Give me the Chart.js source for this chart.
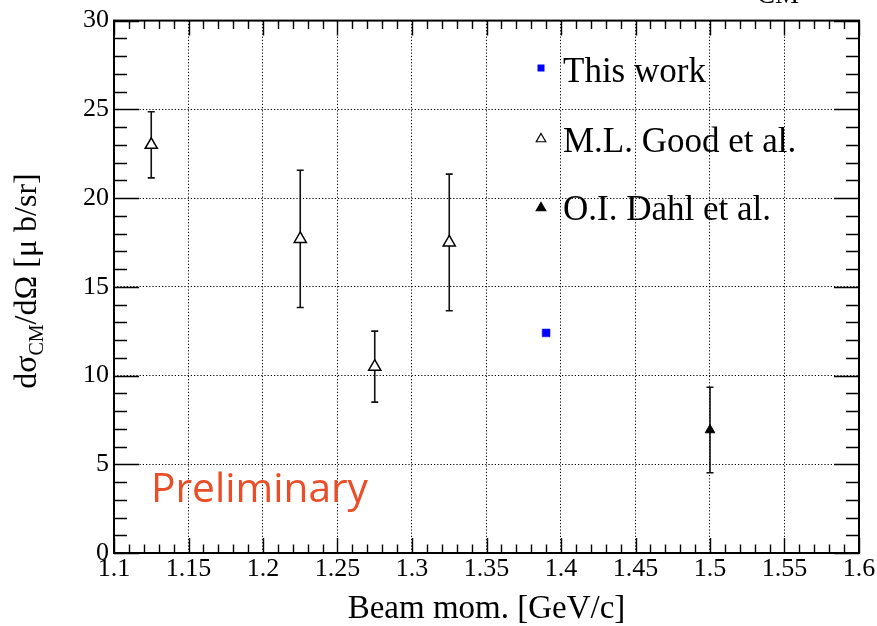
<!DOCTYPE html>
<html>
<head>
<meta charset="utf-8">
<script src="https://cdn.jsdelivr.net/npm/chart.js@4/dist/chart.umd.min.js"></script>
<style>
  html, body { margin: 0; padding: 0; background: #fff; }
  canvas { display: block; }
</style>
</head>
<body>
<canvas id="c" width="877" height="626"></canvas>
<script>
// ---- data ----
const xTickLabels = ['1.1','1.15','1.2','1.25','1.3','1.35','1.4','1.45','1.5','1.55','1.6'];
const yTickLabels = ['0','5','10','15','20','25','30'];

const legendLabels = ['This work', 'M.L. Good et al.', 'O.I. Dahl et al.'];

const thisWorkX = [1.39];
const thisWorkY = [12.4];

const goodX   = [1.125, 1.225, 1.275, 1.325];
const goodY   = [23.0, 17.7, 10.5, 17.5];
const goodErr = [1.86, 3.87, 2.0, 3.85];

const dahlX   = [1.5];
const dahlY   = [6.93];
const dahlErr = [2.41];

const xTitle = 'Beam mom. [GeV/c]';
const yTitleParts = ['d\u03C3', 'CM', '/d\u03A9 [\u03BC b/sr]'];
const watermark = 'Preliminary';

// ---- build datasets ----
function pts(xs, ys, errs) {
  return xs.map((x, i) => ({ x: x, y: ys[i], err: errs ? errs[i] : 0 }));
}

const SERIF = '"Liberation Serif", "Times New Roman", serif';

const datasets = [
  {
    label: legendLabels[0],
    data: pts(thisWorkX, thisWorkY, null),
    pointStyle: 'rect',
    pointRadius: 5.5,
    backgroundColor: '#0000ff',
    borderColor: '#0000ff',
    borderWidth: 0.5
  },
  {
    label: legendLabels[1],
    data: pts(goodX, goodY, goodErr),
    pointStyle: 'triangle',
    pointRadius: 7,
    backgroundColor: '#ffffff',
    borderColor: '#000000',
    borderWidth: 1.5
  },
  {
    label: legendLabels[2],
    data: pts(dahlX, dahlY, dahlErr),
    pointStyle: 'triangle',
    pointRadius: 5.5,
    backgroundColor: '#000000',
    borderColor: '#000000',
    borderWidth: 1
  }
];

function labelFor(list, v) {
  for (const s of list) if (Math.abs(parseFloat(s) - v) < 1e-6) return s;
  return '';
}

// error bars (drawn before the markers)
const errorBars = {
  id: 'errorBars',
  beforeDatasetsDraw(chart) {
    const ctx = chart.ctx, xs = chart.scales.x, ys = chart.scales.y;
    ctx.save();
    ctx.strokeStyle = '#111';
    ctx.lineWidth = 1.6;
    chart.data.datasets.forEach(ds => {
      ds.data.forEach(p => {
        if (!p.err) return;
        const px = xs.getPixelForValue(p.x);
        const y1 = ys.getPixelForValue(p.y + p.err);
        const y2 = ys.getPixelForValue(p.y - p.err);
        ctx.beginPath();
        ctx.moveTo(px, y1); ctx.lineTo(px, y2);
        ctx.moveTo(px - 3.5, y1); ctx.lineTo(px + 3.5, y1);
        ctx.moveTo(px - 3.5, y2); ctx.lineTo(px + 3.5, y2);
        ctx.stroke();
      });
    });
    ctx.restore();
  }
};

// frame, inner tick marks, titles, legend, watermark
const decorations = {
  id: 'decorations',
  afterDraw(chart) {
    const ctx = chart.ctx, xs = chart.scales.x, ys = chart.scales.y;
    const a = chart.chartArea;
    ctx.save();
    // ticks
    ctx.strokeStyle = '#000';
    ctx.lineWidth = 1.4;
    ctx.beginPath();
    for (let k = 0; k <= 50; k++) {
      const v = xs.min + k * 0.01;
      const px = Math.round(xs.getPixelForValue(v)) + 0.5;
      const major = k % 5 === 0;
      const L = major ? 15 : 8.5;
      ctx.moveTo(px, a.bottom); ctx.lineTo(px, a.bottom - L);
      ctx.moveTo(px, a.top); ctx.lineTo(px, a.top + L);
    }
    for (let k = 0; k <= 30; k++) {
      const py = Math.round(ys.getPixelForValue(ys.min + k)) + 0.5;
      const major = k % 5 === 0;
      const L = major ? 25 : 13;
      ctx.moveTo(a.left, py); ctx.lineTo(a.left + L, py);
      ctx.moveTo(a.right, py); ctx.lineTo(a.right - L, py);
    }
    ctx.stroke();
    // frame
    ctx.lineWidth = 2;
    ctx.strokeRect(a.left, a.top, a.right - a.left, a.bottom - a.top);

    // x title
    ctx.fillStyle = '#000';
    ctx.font = '33px ' + SERIF;
    ctx.textAlign = 'center';
    ctx.textBaseline = 'alphabetic';
    ctx.fillText(xTitle, (a.left + a.right) / 2, 618);

    // y title (rotated, with subscript)
    ctx.save();
    ctx.translate(36, 0);
    ctx.rotate(-Math.PI / 2);
    ctx.textAlign = 'left';
    const bigF = '32px ' + SERIF, smallF = '20px ' + SERIF;
    ctx.font = bigF; const w0 = ctx.measureText(yTitleParts[0]).width;
    ctx.font = smallF; const w1 = ctx.measureText(yTitleParts[1]).width;
    ctx.font = bigF; const w2 = ctx.measureText(yTitleParts[2]).width;
    const total = w0 + w1 + w2;
    let sx = -(281 + total / 2);
    ctx.font = bigF; ctx.fillText(yTitleParts[0], sx, 0); sx += w0;
    ctx.font = smallF; ctx.fillText(yTitleParts[1], sx, 7); sx += w1;
    ctx.font = bigF; ctx.fillText(yTitleParts[2], sx, 0);
    ctx.restore();

    // legend
    const rows = [
      { base: 82, my: 68 },
      { base: 152, my: 139 },
      { base: 220, my: 208 }
    ];
    ctx.font = '35px ' + SERIF;
    ctx.textAlign = 'left';
    chart.data.datasets.forEach((ds, i) => {
      ctx.fillStyle = '#000';
      ctx.fillText(ds.label, 563, rows[i].base);
      const mx = 541, my = rows[i].my;
      if (ds.pointStyle === 'rect') {
        ctx.fillStyle = ds.backgroundColor;
        ctx.fillRect(mx - 3.5, my - 3.5, 7, 7);
      } else {
        const r = 5.5;
        ctx.beginPath();
        ctx.moveTo(mx, my - r);
        ctx.lineTo(mx + r * 0.866, my + r * 0.5);
        ctx.lineTo(mx - r * 0.866, my + r * 0.5);
        ctx.closePath();
        ctx.fillStyle = ds.backgroundColor;
        ctx.fill();
        ctx.lineWidth = 1.2;
        ctx.strokeStyle = '#000';
        ctx.stroke();
      }
    });

    // watermark
    ctx.save();
    ctx.fillStyle = 'rgb(233,78,40)';
    ctx.font = '41px "Open Sans", sans-serif';
    const mw = ctx.measureText(watermark).width;
    ctx.translate(151, 502);
    ctx.scale(217 / mw, 1);
    ctx.fillText(watermark, 0, 0);
    ctx.restore();

    // clipped text fragment at the top edge
    ctx.fillStyle = '#000';
    ctx.font = '27px ' + SERIF;
    ctx.fillText('CM', 757, 3);

    ctx.restore();
  }
};

new Chart(document.getElementById('c'), {
  type: 'scatter',
  data: { datasets: datasets },
  options: {
    responsive: false,
    devicePixelRatio: 1,
    animation: false,
    layout: { padding: { left: 0, right: 18, top: 15, bottom: 0 } },
    plugins: { legend: { display: false }, tooltip: { enabled: false } },
    scales: {
      x: {
        type: 'linear',
        min: 1.1, max: 1.6,
        afterFit(s) { s.height = 73; },
        afterBuildTicks(s) {
          s.ticks = xTickLabels.map(t => ({ value: parseFloat(t) }));
        },
        ticks: {
          autoSkip: false, maxRotation: 0, padding: 1,
          color: '#000',
          font: { family: SERIF, size: 26 },
          callback: v => labelFor(xTickLabels, v)
        },
        grid: { color: '#000', lineWidth: 1, drawTicks: false },
        border: { display: false, dash: [1.2, 2] }
      },
      y: {
        type: 'linear',
        min: 0, max: 30,
        afterFit(s) { s.width = 114; },
        afterBuildTicks(s) {
          s.ticks = yTickLabels.map(t => ({ value: parseFloat(t) }));
        },
        ticks: {
          autoSkip: false, padding: 5,
          color: '#000',
          font: { family: SERIF, size: 26 },
          callback: v => labelFor(yTickLabels, v)
        },
        grid: { color: '#000', lineWidth: 1, drawTicks: false },
        border: { display: false, dash: [1.2, 2] }
      }
    }
  },
  plugins: [errorBars, decorations]
});
</script>
</body>
</html>
